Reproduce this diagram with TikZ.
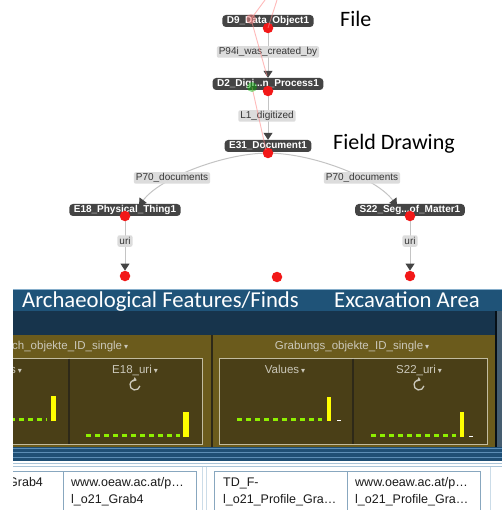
\documentclass[tikz,border=0pt]{standalone}
\usepackage{fontspec}
\setmainfont{Liberation Sans}
\newfontfamily\calfont{Carlito}
\newfontfamily\symfont{DejaVu Sans}
\usetikzlibrary{arrows.meta,backgrounds,calc}

\definecolor{nodegray}{HTML}{444444}
\definecolor{labelgray}{HTML}{DCDCDC}
\definecolor{labeltext}{HTML}{363636}
\definecolor{edgegray}{HTML}{C4C4C4}
\definecolor{tipgray}{HTML}{444444}
\definecolor{dotred}{HTML}{F21818}
\definecolor{trailpink}{HTML}{FF8C8C}
\definecolor{hdrblue}{HTML}{1F5378}
\definecolor{hdrline}{HTML}{86AECB}
\definecolor{darkblue}{HTML}{17344C}
\definecolor{olive}{HTML}{6B5B1C}
\definecolor{olivein}{HTML}{4A3F17}
\definecolor{olivebord}{HTML}{C2BCA0}
\definecolor{olivetext}{HTML}{CBC8BA}
\definecolor{olivediv}{HTML}{2E2918}
\definecolor{lime}{HTML}{8EF000}
\definecolor{baryellow}{HTML}{FFFF00}
\definecolor{stripe}{HTML}{1F4F75}
\definecolor{stripelight}{HTML}{5C8DB5}
\definecolor{framelight}{HTML}{A9C4D8}
\definecolor{cellline}{HTML}{88A7BF}
\definecolor{celltext}{HTML}{1A1A1A}

\tikzset{
  gnode/.style={fill=nodegray, rounded corners=3.5pt, text=white,
    font=\fontsize{10}{12}\selectfont\bfseries, inner xsep=4.5pt,
    inner ysep=0pt, minimum height=12pt},
  elabel/.style={fill=labelgray, rounded corners=2pt, text=labeltext,
    font=\fontsize{10}{12}\selectfont, inner xsep=2pt, inner ysep=0pt,
    minimum height=11.5pt},
  reddot/.style={circle, fill=dotred, inner sep=0pt, minimum size=10.5pt},
  edge/.style={draw=edgegray, line width=1pt,
    -{Triangle[width=9pt,length=7pt,color=tipgray]}},
  trail/.style={draw=trailpink, line width=0.9pt, opacity=0.6},
  bigtext/.style={font=\calfont\fontsize{22}{26}\selectfont, inner sep=0pt},
  titletext/.style={text=white, font=\calfont\fontsize{22.7}{27}\selectfont, inner sep=0pt},
  coltext/.style={text=olivetext, font=\fontsize{11.5}{13}\selectfont, inner sep=0pt},
  celltxt/.style={text=celltext, font=\fontsize{12.5}{15}\selectfont, inner sep=0pt, anchor=base west},
  dashes/.style={draw=lime, line width=3pt, dash pattern=on 5pt off 4pt},
  bar/.style={fill=baryellow},
}
\newcommand{\dropmark}{\,{\symfont\fontsize{8}{8}\selectfont ▾}}

\begin{document}
\begin{tikzpicture}[x=1pt,y=-1pt]
\useasboundingbox (0,0) rectangle (502,510);
\begin{scope}[on background layer]
  \fill[white] (0,0) rectangle (502,510);
\end{scope}

% ---------- graph nodes ----------
\node[gnode] (d9)  at (268,21)  {D9\_Data\_Object1};
\node[gnode] (d2)  at (268,84)  {D2\_Digi...n\_Process1};
\node[gnode] (e31) at (268,146) {E31\_Document1};
\node[gnode] (e18) at (125,210) {E18\_Physical\_Thing1};
\node[gnode] (s22) at (410,210) {S22\_Seg...of\_Matter1};

\node[reddot] (d9p)  at (268,28)  {};
\node[reddot] (d2p)  at (268,91)  {};
\node[reddot] (e31p) at (268,153) {};
\node[reddot] (e18p) at (125,216) {};
\node[reddot] (s22p) at (410,216) {};
\node[reddot] (u1)   at (125,276) {};
\node[reddot] (u0)   at (277,277) {};
\node[reddot] (u2)   at (410,276) {};

% ---------- connectors ----------
\begin{scope}[on background layer]
  \draw[edge] (d9p) -- (d2.north);
  \draw[edge] (d2p) -- (e31.north);
  \draw[edge] (e31p) .. controls (220,155) and (160,178) .. ($(e18.north)+(14,2)$);
  \draw[edge] (e31p) .. controls (316,155) and (376,178) .. ($(s22.north)+(-13,2)$);
  \draw[edge] (e18p) -- (u1.north);
  \draw[edge] (s22p) -- (u2.north);
\end{scope}

% ---------- edge labels ----------
\node[elabel] (l1) at (268,52)  {P94i\_was\_created\_by};
\node[elabel] (l2) at (267,116) {L1\_digitized};
\node[elabel] (l3) at (172,178) {P70\_documents};
\node[elabel] (l4) at (362,178) {P70\_documents};
\node[elabel] (l5) at (125,241) {uri};
\node[elabel] (l6) at (410,241) {uri};

% ---------- annotations ----------
\node[bigtext, anchor=base west] (file)  at (340,27)  {File};
\node[bigtext, anchor=base west] (field) at (333,150) {Field Drawing};

% ---------- drag trail over the chain ----------
\coordinate (t0) at (265,0);
\coordinate (t1) at (277,0);
\coordinate (t2) at (251,19);
\coordinate (t3) at (267,76);
\coordinate (t4) at (252,87);
\coordinate (t5) at (266,150);
\draw[trail] (t0) -- (t2) -- (t3);
\draw[trail] (t1) -- (d9p.center);
\draw[trail] (t4) -- (t5);
\fill[trailpink, opacity=0.5] (t2) circle (5pt);
\fill[green!70!black, opacity=0.45] (t4) circle (5pt);

% ---------- dashboard panel ----------
\begin{scope}
  \clip (13,280) rectangle (502,510);
  % title bar and frame
  \fill[darkblue] (13,311) rectangle (502,448);
  \fill[hdrblue] (13,289) rectangle (502,311);
  \draw[hdrline, line width=1pt] (13,289.5) -- (502,289.5);
  \fill[darkblue!80!white] (497,311) rectangle (502,448);
  \draw[black!70!darkblue, line width=1.2pt] (496,311) -- (496,448);
  \node[titletext, anchor=base west] (arch) at (22,307) {Archaeological Features/Finds};
  \node[titletext, anchor=base west] (exc) at (334,307) {Excavation Area};

  % olive panels
  \fill[olive] (13,335) rectangle (495,447);
  \draw[olivediv, line width=1.5pt] (212,335) -- (212,447);
  \filldraw[fill=olivein, draw=olivebord, line width=1pt] (8,358) rectangle (202,444);
  \filldraw[fill=olivein, draw=olivebord, line width=1pt] (219,358) rectangle (487,444);
  \draw[olivediv, line width=1.2pt] (69,358.5) -- (69,443.5);
  \draw[olivediv, line width=1.2pt] (353,358.5) -- (353,443.5);

  \node[coltext, anchor=base west] (g1) at (12,349) {ch\_objekte\_ID\_single\dropmark};
  \node[coltext, anchor=base] (g2) at (352,349) {Grabungs\_objekte\_ID\_single\dropmark};
  \node[coltext, anchor=base west] (c1) at (10,373) {s\dropmark};
  \node[coltext, anchor=base] (c2) at (135,373) {E18\_uri\dropmark};
  \node[coltext, anchor=base] (c3) at (285,373) {Values\dropmark};
  \node[coltext, anchor=base] (c4) at (419,373) {S22\_uri\dropmark};

  % refresh icons
  \foreach \cx in {135,419}{
    \draw[olivetext, line width=1.3pt, -{Triangle[width=4.5pt,length=3pt]}]
      (\cx,385) ++(10:5) arc[start angle=10, end angle=290, radius=5];
  }

  % value bars
  \draw[dashes] (10,419) -- (47,419);
  \fill[bar] (51,396) rectangle (56,421);
  \draw[dashes] (86,435) -- (180,435);
  \fill[bar] (183,412) rectangle (189,437);
  \draw[dashes] (237,419) -- (322,419);
  \fill[bar] (327,397) rectangle (331,421);
  \fill[white] (337,419.5) rectangle (341,421);
  \draw[dashes] (371,435) -- (456,435);
  \fill[bar] (460,412) rectangle (464,437);
  \fill[white] (469,435.5) rectangle (473,437);

  % stripes under the panel
  \fill[stripe] (13,447) rectangle (502,461);
  \foreach \sy in {448,452.5,457.5}{
    \draw[stripelight, line width=0.9pt] (13,\sy) -- (502,\sy);
  }
  \draw[framelight, line width=0.8pt] (13,463.5) -- (502,463.5);
  \draw[framelight, line width=0.8pt] (13,466.5) -- (502,466.5);
  \draw[framelight!60!white, line width=0.8pt] (202,466.5) -- (202,510);
  \draw[framelight!60!white, line width=0.8pt] (206,466.5) -- (206,510);
  \draw[framelight!60!white, line width=0.8pt] (490,466.5) -- (490,510);

  % table cells
  \draw[cellline, line width=0.9pt] (13,471) -- (196,471);
  \draw[cellline, line width=0.9pt] (63,471) -- (63,510);
  \draw[cellline, line width=0.9pt] (196,471) -- (196,510);
  \draw[cellline, line width=0.9pt] (214,512) -- (214,471) -- (480,471) -- (480,512);
  \draw[cellline, line width=0.9pt] (347,471) -- (347,510);

  \node[celltxt] (a1) at (8,486)   {Grab4};
  \node[celltxt] (a2) at (71,486)  {www.oeaw.ac.at/p…};
  \node[celltxt] (a3) at (71,503)  {l\_o21\_Grab4};
  \node[celltxt] (b1) at (223,486) {TD\_F-};
  \node[celltxt] (b2) at (223,503) {l\_o21\_Profile\_Gra…};
  \node[celltxt] (b3) at (355,486) {www.oeaw.ac.at/p…};
  \node[celltxt] (b4) at (355,503) {l\_o21\_Profile\_Gra…};
\end{scope}
\end{tikzpicture}
\end{document}
